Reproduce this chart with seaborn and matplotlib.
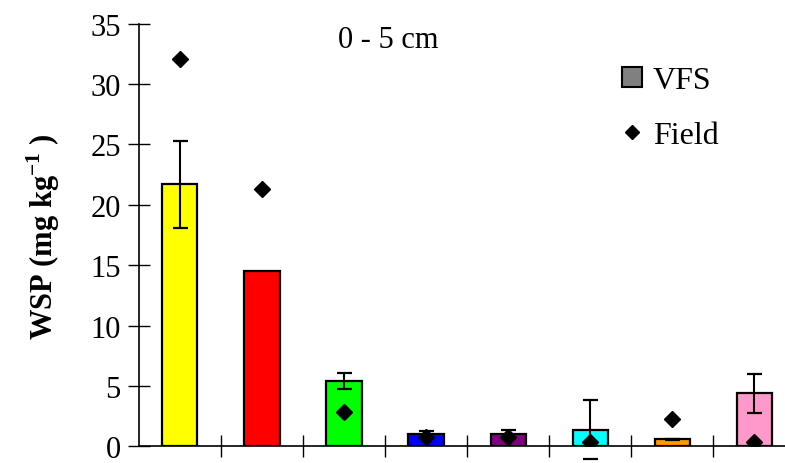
import numpy as np
import pandas as pd
import matplotlib
matplotlib.use("Agg")
import matplotlib.pyplot as plt
from matplotlib.lines import Line2D
import seaborn as sns

# valores (0 - 5 cm)
tratamientos = ["T1", "T2", "T3", "T4", "T5", "T6", "T7", "T8"]
vfs = [21.7, 14.5, 5.4, 1.0, 1.0, 1.4, 0.6, 4.4]
vfs_err = [3.6, 0.0, 0.65, 0.25, 0.37, 2.45, 0.05, 1.6]
field = [32.1, 21.3, 2.85, 0.8, 0.8, 0.4, 2.3, 0.4]
colores = ["#FFFF00", "#FF0000", "#00FF00", "#0000FF",
           "#800080", "#00FFFF", "#FF9900", "#FF99CC"]

df = pd.DataFrame({"tratamiento": tratamientos, "vfs": vfs,
                   "err": vfs_err, "field": field})
df["pos"] = np.arange(len(df))

sns.set_style("white")
plt.rcParams["font.family"] = ["Liberation Serif", "DejaVu Serif"]
plt.rcParams["mathtext.fontset"] = "custom"
plt.rcParams["mathtext.rm"] = "Liberation Serif"
plt.rcParams["mathtext.bf"] = "Liberation Serif:bold"
for k in ["text.color", "axes.labelcolor", "xtick.color", "ytick.color"]:
    plt.rcParams[k] = "black"

fig = plt.figure(figsize=(7.85, 4.64), dpi=100)
ax = fig.add_axes([0.1768, 0.0356, 0.8365, 0.9112])

sns.barplot(data=df, x="tratamiento", y="vfs", hue="tratamiento",
            palette=colores, saturation=1, width=0.43, edgecolor="black",
            linewidth=1.6, legend=False, ax=ax)

# barras de error (solo donde hay)
con_err = df[df["err"] > 0]
eb = ax.errorbar(con_err["pos"], con_err["vfs"], yerr=con_err["err"],
                 fmt="none", ecolor="black", elinewidth=1.5, capsize=5.4,
                 capthick=1.6)
for cap in eb[1]:
    cap.set_clip_on(False)

ax.plot(df["pos"], df["field"], linestyle="none", marker="D",
        markersize=8, color="black")

ax.set_xlim(-0.5, 7.5)
ax.set_ylim(0, 35)
ax.set_yticks(np.arange(0, 36, 5))
ax.set_xticks(np.arange(0.5, 7, 1))
ax.set_xticklabels([])
ax.set_xlabel("")
ax.set_ylabel(r"WSP (mg kg$^{\mathbf{-1}}$ )", fontsize=22,
              fontweight="bold", labelpad=20)

sns.despine(ax=ax, top=True, right=True)
for s in ["left", "bottom"]:
    ax.spines[s].set_color("black")
    ax.spines[s].set_linewidth(1.2)
ax.tick_params(axis="y", direction="inout", length=16, width=1,
               labelsize=22, pad=5, left=True)
ax.tick_params(axis="x", direction="inout", length=16, width=1,
               bottom=True)

ax.text(2.54, 33.7, "0 - 5 cm", fontsize=22, ha="center", va="center")

handles = [
    Line2D([], [], linestyle="none", marker="s", markersize=15,
           markerfacecolor="#808080", markeredgecolor="black",
           markeredgewidth=1.5),
    Line2D([], [], linestyle="none", marker="D", markersize=7,
           color="black"),
]
fig.legend(handles, ["VFS", "Field"], loc="upper left",
           bbox_to_anchor=(584 / 785, 1 - 38 / 464), frameon=False,
           fontsize=23, handletextpad=0.05, labelspacing=0.8,
           handlelength=1.2)

fig.savefig("out.png", dpi=100)
